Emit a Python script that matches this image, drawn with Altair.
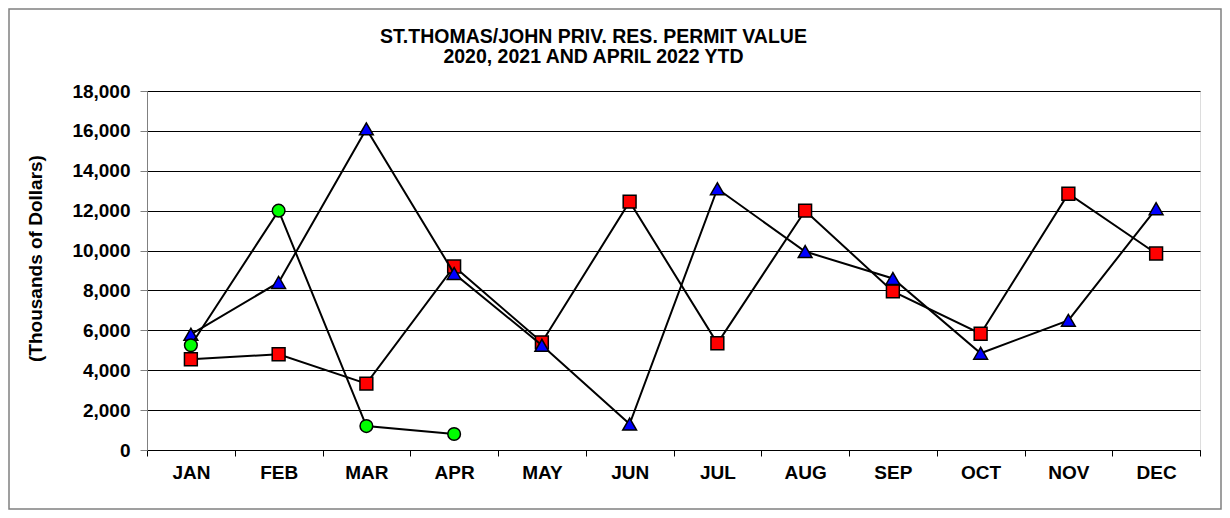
import altair as alt
import pandas as pd

months = ["JAN", "FEB", "MAR", "APR", "MAY", "JUN", "JUL", "AUG", "SEP", "OCT", "NOV", "DEC"]
v2020 = [4550, 4800, 3330, 9200, 5400, 12450, 5350, 12000, 7950, 5830, 12850, 9850]
v2021 = [5800, 8400, 16100, 8850, 5250, 1300, 13100, 9950, 8600, 4850, 6500, 12100]
months2022 = ["JAN", "FEB", "MAR", "APR"]
v2022 = [5250, 12000, 1200, 800]
y_ticks = [0, 2000, 4000, 6000, 8000, 10000, 12000, 14000, 16000, 18000]

title_lines = ["ST.THOMAS/JOHN PRIV. RES. PERMIT VALUE", "2020, 2021 AND APRIL 2022 YTD"]
y_title = "(Thousands of Dollars)"

FONT = "Liberation Sans"
W, H = 1053, 359
PAD_L, PAD_T = 139, 83
TOTAL_W, TOTAL_H = 1214, 502

x_enc = alt.X(
    "month:N",
    sort=months,
    bandPosition=0.5,
    scale=alt.Scale(type="band", domain=months, paddingInner=0, paddingOuter=0),
    axis=alt.Axis(
        title=None, labelAngle=0, tickBand="extent", grid=False,
        domainColor="black", tickColor="black", tickSize=6, labelPadding=7,
        labelFont=FONT, labelFontSize=19, labelFontWeight="bold", labelColor="black",
    ),
)
y_enc = alt.Y(
    "value:Q",
    scale=alt.Scale(domain=[0, 18000], nice=False),
    axis=alt.Axis(
        values=y_ticks, format=",d", grid=True, gridColor="black", gridWidth=1,
        domainColor="#808080", tickColor="#808080", tickSize=7, labelPadding=10,
        labelFont=FONT, labelFontSize=19, labelFontWeight="bold", labelColor="black",
        title=y_title, titleFont=FONT, titleFontSize=19, titleFontWeight="bold",
        titleColor="black", titleX=-112, titleY=167, titleAlign="center",
        titleBaseline="middle", titleAngle=270,
    ),
)


def series(ms, vals, shape, fill, size):
    df = pd.DataFrame({"month": ms, "value": vals})
    base = alt.Chart(df).encode(x=x_enc, y=y_enc)
    line = base.mark_line(color="black", strokeWidth=2)
    pts = base.mark_point(shape=shape, filled=True, fill=fill, stroke="black",
                          strokeWidth=1.5, size=size, opacity=1)
    return [line, pts]


frame = alt.Chart(pd.DataFrame({"a": [0]})).mark_rect(
    fill="white", fillOpacity=0, stroke="#808080", strokeWidth=1.5
).encode(
    x=alt.value(-PAD_L + 1), x2=alt.value(TOTAL_W - PAD_L - 1),
    y=alt.value(-PAD_T + 1), y2=alt.value(TOTAL_H - PAD_T - 1),
)

layers = [frame]
layers += series(months, v2020, "square", "#FF0000", 165)
layers += series(months, v2021, "triangle-up", "#0000FF", 190)
layers += series(months2022, v2022, "circle", "#00FF00", 160)

chart = alt.layer(*layers).properties(
    width=W, height=H,
    title=alt.Title(title_lines, font=FONT, fontSize=19.5, fontWeight="bold", color="black",
                    lineHeight=20, dx=-80, dy=83, offset=24, anchor="middle", frame="group"),
    autosize=alt.AutoSizeParams(type="none"),
    padding={"left": PAD_L, "top": PAD_T, "right": TOTAL_W - PAD_L - W, "bottom": TOTAL_H - PAD_T - H},
).configure_view(strokeWidth=0).configure(background="white")

chart.save("out.html", embed_options={"renderer": "svg", "actions": False})
